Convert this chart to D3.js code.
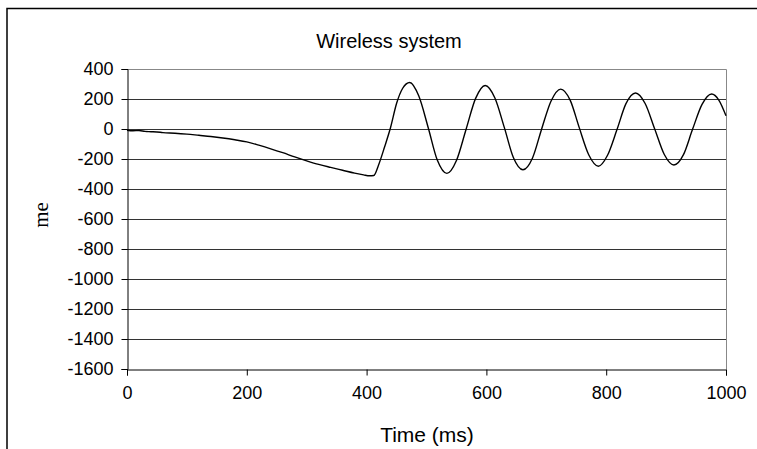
<!DOCTYPE html>
<html>
<head>
<meta charset="utf-8">
<script src="https://cdn.jsdelivr.net/npm/d3@7"></script>
<style>
  html, body { margin: 0; padding: 0; background: #fff; overflow: hidden; }
  svg { display: block; }
</style>
</head>
<body>
<svg id="chart" width="757" height="449"></svg>
<script>
// Strain response of the wireless system over the first second
const timeMs = [
  0, 10, 20, 30, 40, 50, 60, 80, 100, 120, 140, 160, 180, 200, 220, 240, 260, 280,
  300, 320, 340, 360, 380, 395, 405, 412,
  420, 430, 440, 450, 460, 472,
  487, 503, 518, 534,
  550, 566, 582, 598,
  614, 630, 645, 661,
  677, 692, 708, 724,
  740, 755, 771, 787,
  802, 818, 833, 849,
  865, 881, 897, 913,
  929, 944, 960, 976,
  988, 1000
];
const strain = [
  -8, -12, -10, -16, -18, -20, -24, -28, -34, -42, -50, -60, -72, -86, -108, -132, -158, -186,
  -212, -236, -256, -275, -294, -306, -312, -310,
  -240, -120, 10, 170, 270, 310,
  221, 7, -207, -296,
  -210, -3, 204, 290,
  208, 9, -190, -272,
  -193, -3, 187, 266,
  191, 9, -173, -248,
  -177, -4, 169, 240,
  170, 0, -170, -240,
  -171, -4, 164, 233,
  193, 88
];

const xTicks = [0, 200, 400, 600, 800, 1000];
const yTicks = [400, 200, 0, -200, -400, -600, -800, -1000, -1200, -1400, -1600];

const titleText = "Wireless system";
const xTitle = "Time (ms)";
const yTitle = "me";

const svg = d3.select("#chart");
const margin = { left: 127, right: 31, top: 69, bottom: 80 };
const W = 757, H = 449;

const x = d3.scaleLinear().domain([0, 1000]).range([margin.left, W - margin.right]);
const y = d3.scaleLinear().domain([-1600, 400]).range([H - margin.bottom, margin.top]);

const sansFont = "'Liberation Sans', Arial, sans-serif";
const plainNumber = d => String(d);

// outer chart frame
svg.append("rect")
  .attr("x", 7).attr("y", 8.5)
  .attr("width", 800).attr("height", 500)
  .attr("fill", "none").attr("stroke", "#000").attr("stroke-width", 1.5);

// horizontal gridlines
svg.append("g")
  .selectAll("line")
  .data(yTicks.filter(v => v !== 400 && v !== -1600))
  .join("line")
  .attr("x1", x(0)).attr("x2", x(1000))
  .attr("y1", d => Math.round(y(d)) + 0.5)
  .attr("y2", d => Math.round(y(d)) + 0.5)
  .attr("stroke", "#333").attr("stroke-width", 1);

// plot area top and right edges
svg.append("path")
  .attr("d", `M${x(0)},${y(400) + 0.5}H${x(1000) + 0.5}V${y(-1600)}`)
  .attr("fill", "none").attr("stroke", "#888").attr("stroke-width", 1);

// y axis
const yAxis = svg.append("g")
  .attr("transform", `translate(${x(0) + 0.5},0)`)
  .call(d3.axisLeft(y).tickValues(yTicks).tickSize(6).tickPadding(8).tickFormat(plainNumber));
yAxis.select(".domain").attr("stroke", "#000");
yAxis.selectAll(".tick line").attr("stroke", "#000");
yAxis.selectAll("text")
  .attr("font-family", sansFont).attr("font-size", 18).attr("fill", "#000");

// x axis
const xAxis = svg.append("g")
  .attr("transform", `translate(0,${y(-1600) + 0.5})`)
  .call(d3.axisBottom(x).tickValues(xTicks).tickSize(6).tickPadding(11).tickFormat(plainNumber));
xAxis.select(".domain").attr("stroke", "#000");
xAxis.selectAll(".tick line").attr("stroke", "#000");
xAxis.selectAll("text")
  .attr("font-family", sansFont).attr("font-size", 18).attr("fill", "#000");

// strain trace
const pts = timeMs.map((t, i) => [t, strain[i]]);
svg.append("path")
  .datum(pts)
  .attr("fill", "none")
  .attr("stroke", "#000")
  .attr("stroke-width", 1.4)
  .attr("d", d3.line().x(d => x(d[0])).y(d => y(d[1])).curve(d3.curveMonotoneX));

// titles
svg.append("text")
  .attr("x", 389).attr("y", 48)
  .attr("text-anchor", "middle")
  .attr("font-family", sansFont).attr("font-size", 20)
  .text(titleText);

svg.append("text")
  .attr("x", 427).attr("y", 442)
  .attr("text-anchor", "middle")
  .attr("font-family", sansFont).attr("font-size", 21)
  .text(xTitle);

svg.append("text")
  .attr("transform", "translate(48,215) rotate(-90)")
  .attr("text-anchor", "middle")
  .attr("font-family", "'Liberation Serif', 'Times New Roman', serif")
  .attr("font-size", 21)
  .text(yTitle);
</script>
</body>
</html>
